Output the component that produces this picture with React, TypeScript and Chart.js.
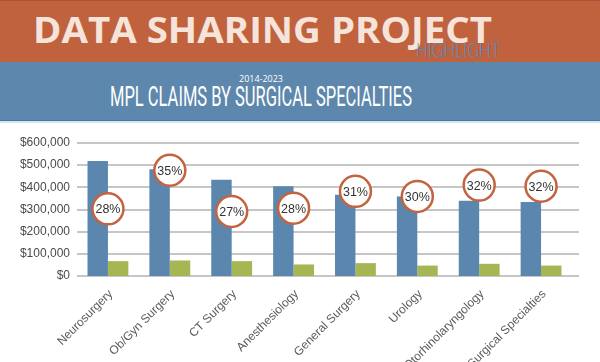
import React, { useEffect, useLayoutEffect, useRef } from "react";
import { Chart, registerables } from "chart.js";

Chart.register(...registerables);

const categories = [
  "Neurosurgery",
  "Ob/Gyn Surgery",
  "CT Surgery",
  "Anesthesiology",
  "General Surgery",
  "Urology",
  "Otorhinolaryngology",
  "Other Surgical Specialties",
];
const seriesBlue = [519000, 482000, 434000, 405000, 367000, 359000, 340000, 334000];
const seriesGreen = [67000, 70000, 67000, 52000, 58000, 47000, 55000, 47000];
const percentLabels = [28, 35, 27, 28, 31, 30, 32, 32];
const percentAnchors = [303000, 477000, 291000, 306000, 382000, 359000, 410000, 405000];
const yTicks = [0, 100000, 200000, 300000, 400000, 500000, 600000];

const BLUE = "#5b86ad";
const GREEN = "#a6b652";
const RING = "#c4633f";

function FitText(props: {
  text: string;
  left: number;
  top: number;
  width: number;
  font: string;
  size: number;
  weight: number;
  color: string;
  letter?: number;
}) {
  const ref = useRef<HTMLSpanElement>(null);
  useLayoutEffect(() => {
    const el = ref.current;
    if (!el) return;
    el.style.transform = "none";
    const w = el.getBoundingClientRect().width;
    if (w > 0) el.style.transform = `scaleX(${props.width / w})`;
  });
  return (
    <span
      ref={ref}
      style={{
        position: "absolute",
        left: props.left,
        top: props.top,
        fontFamily: props.font,
        fontSize: props.size,
        fontWeight: props.weight,
        color: props.color,
        lineHeight: `${props.size}px`,
        whiteSpace: "nowrap",
        transformOrigin: "left top",
        letterSpacing: props.letter ?? 0,
      }}
    >
      {props.text}
    </span>
  );
}

export default function App() {
  const canvasRef = useRef<HTMLCanvasElement>(null);

  useEffect(() => {
    if (!canvasRef.current) return;
    const gridPlugin = {
      id: "extGrid",
      beforeDatasetsDraw(chart: any) {
        const { ctx, chartArea, scales } = chart;
        const y = scales.y;
        ctx.save();
        ctx.strokeStyle = "#c6c6c6";
        ctx.lineWidth = 2;
        yTicks.forEach((v) => {
          const py = Math.round(y.getPixelForValue(v));
          ctx.beginPath();
          ctx.moveTo(chartArea.left, py);
          ctx.lineTo(chartArea.right + 7, py);
          ctx.stroke();
        });
        ctx.restore();
      },
    };
    const labelPlugin = {
      id: "ringLabels",
      afterDatasetsDraw(chart: any) {
        const meta = chart.getDatasetMeta(0);
        const { ctx } = chart;
        ctx.save();
        ctx.fillStyle = "#333333";
        ctx.font = "12.5px 'Liberation Sans', Arial, sans-serif";
        ctx.textAlign = "center";
        ctx.textBaseline = "middle";
        meta.data.forEach((pt: any, i: number) => {
          ctx.fillText(percentLabels[i] + "%", pt.x, pt.y + 1);
        });
        ctx.restore();
      },
    };
    const chart = new Chart(canvasRef.current, {
      type: "bar",
      data: {
        labels: categories,
        datasets: [
          {
            type: "line",
            label: "Share",
            data: percentAnchors,
            showLine: false,
            pointRadius: 15.5,
            pointBackgroundColor: "#ffffff",
            pointBorderColor: RING,
            pointBorderWidth: 2.5,
            order: 0,
          } as any,
          {
            type: "bar",
            label: "Average",
            data: seriesBlue,
            backgroundColor: BLUE,
            categoryPercentage: 0.66,
            barPercentage: 1,
            order: 1,
          },
          {
            type: "bar",
            label: "Median",
            data: seriesGreen,
            backgroundColor: GREEN,
            categoryPercentage: 0.66,
            barPercentage: 1,
            order: 1,
          },
        ],
      },
      options: {
        animation: false,
        responsive: false,
        layout: { padding: { top: 20, left: 0, right: 28, bottom: 0 } },
        plugins: { legend: { display: false }, tooltip: { enabled: false } },
        scales: {
          x: {
            grid: { display: false, drawTicks: false },
            border: { display: false },
            ticks: {
              minRotation: 45,
              maxRotation: 45,
              autoSkip: false,
              padding: 11,
              labelOffset: 3,
              color: "#5a5a5a",
              font: { family: "'Liberation Sans', Arial, sans-serif", size: 12 },
            },
            afterFit(scale: any) {
              scale.height = 107;
            },
          },
          y: {
            min: 0,
            max: 600000,
            grid: { display: false, drawTicks: false },
            border: { display: false },
            ticks: {
              stepSize: 100000,
              padding: 7,
              color: "#4a4a4a",
              font: { family: "'Liberation Sans', Arial, sans-serif", size: 12 },
              callback: (v: any) => "$" + Number(v).toLocaleString("en-US"),
            },
            afterFit(scale: any) {
              scale.width = 77;
            },
          },
        },
      },
      plugins: [gridPlugin, labelPlugin],
    });
    return () => chart.destroy();
  }, []);

  return (
    <div
      style={{
        position: "fixed",
        left: 0,
        top: 0,
        width: 600,
        height: 362,
        overflow: "hidden",
        background: "#ffffff",
      }}
    >
      <div style={{ position: "absolute", left: 0, top: 0, width: 600, height: 62, background: "#c1623f", borderTop: "1px solid #a9533a", boxSizing: "border-box" }} />
      <div style={{ position: "absolute", left: 0, top: 62, width: 600, height: 59, background: "#5e87ad" }} />
      <div style={{ position: "absolute", left: 0, top: 120, width: 600, height: 1, background: "#4f779b" }} />
      <div style={{ position: "absolute", left: 0, top: 121, width: 600, height: 2, background: "#d3e6f1" }} />
      <FitText text="DATA SHARING PROJECT" left={33} top={12} width={459} font="'Open Sans', sans-serif" size={35} weight={700} color="#f6e4da" />
      <FitText text="HIGHLIGHT" left={416} top={40} width={84} font="Lato, sans-serif" size={19} weight={300} color="#3f8fd4" />
      <FitText text="2014-2023" left={239} top={74} width={44} font="'Open Sans', sans-serif" size={9} weight={400} color="#ffffff" />
      <FitText text="MPL CLAIMS BY SURGICAL SPECIALTIES" left={110} top={83} width={302} font="Roboto, sans-serif" size={28} weight={400} color="#ffffff" />
      <canvas
        ref={canvasRef}
        width={600}
        height={260}
        style={{ position: "absolute", left: 0, top: 123, width: 600, height: 260 }}
      />
    </div>
  );
}
